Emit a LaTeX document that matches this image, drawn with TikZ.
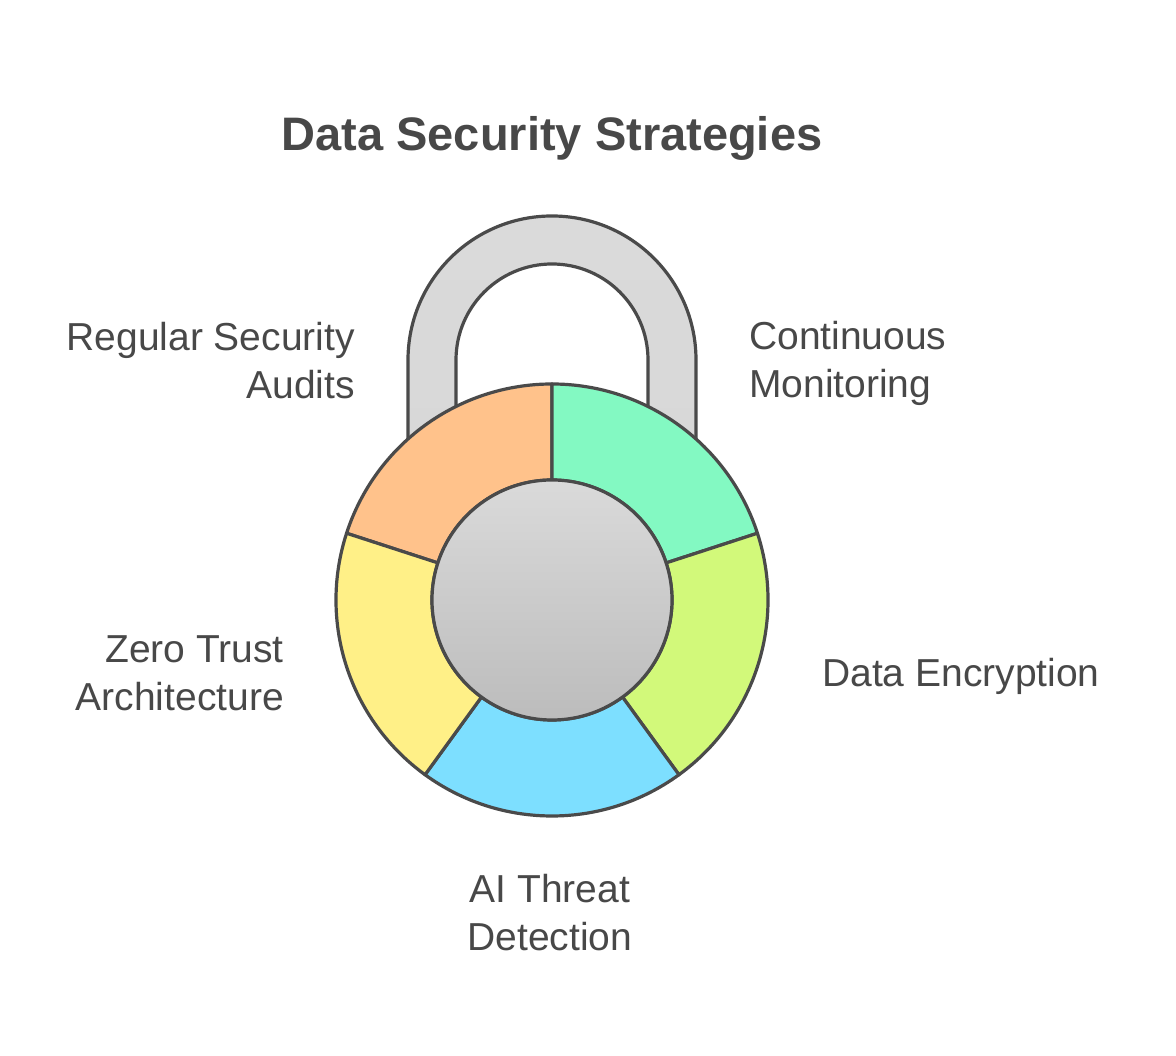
\documentclass[tikz,border=0pt]{standalone}
\usepackage{fontspec}
\setmainfont{Liberation Sans}
\definecolor{ink}{HTML}{484848}
\definecolor{edge}{HTML}{4A4A4A}
\definecolor{cmon}{HTML}{83F9C2}
\definecolor{cenc}{HTML}{D2F97A}
\definecolor{cai}{HTML}{7DDFFF}
\definecolor{czero}{HTML}{FFF087}
\definecolor{caud}{HTML}{FFC28B}
\definecolor{gtop}{HTML}{DADADA}
\definecolor{gbot}{HTML}{BCBCBC}
\tikzset{
  seg/.style={draw=edge, line width=3.2pt, line join=round},
  lbl/.style={text=ink, inner sep=0pt, font=\fontsize{39}{48}\selectfont},
}
\begin{document}
\begin{tikzpicture}[x=1pt,y=1pt]
\useasboundingbox (0,0) rectangle (1176,1056);
% title
\node[text=ink, inner sep=0pt, anchor=base, font=\fontsize{47}{56}\selectfont\bfseries] (title) at (552,905) {Data Security Strategies};
% shackle
\path[seg, top color=gtop, bottom color=gtop!90!gbot]
  (408,456) -- (408,696) arc[start angle=180, end angle=0, radius=144]
  -- (696,456) -- (648,456) -- (648,696) arc[start angle=0, end angle=180, radius=96]
  -- (456,456) -- cycle;
\begin{scope}[shift={(552,456)}]
  \path[seg, fill=caud] (90:216) arc[start angle=90, end angle=162, radius=216] -- (162:120) arc[start angle=162, end angle=90, radius=120] -- cycle;
  \path[seg, fill=cmon] (18:216) arc[start angle=18, end angle=90, radius=216] -- (90:120) arc[start angle=90, end angle=18, radius=120] -- cycle;
  \path[seg, fill=cenc] (-54:216) arc[start angle=-54, end angle=18, radius=216] -- (18:120) arc[start angle=18, end angle=-54, radius=120] -- cycle;
  \path[seg, fill=cai] (-126:216) arc[start angle=-126, end angle=-54, radius=216] -- (-54:120) arc[start angle=-54, end angle=-126, radius=120] -- cycle;
  \path[seg, fill=czero] (162:216) arc[start angle=162, end angle=234, radius=216] -- (234:120) arc[start angle=234, end angle=162, radius=120] -- cycle;
  \path[seg, top color=gtop, bottom color=gbot] (0,0) circle[radius=120];
\end{scope}
% labels (base anchor = baseline of last line)
\node[lbl, anchor=base east, align=right] (audits) at (355,657) {Regular Security\\Audits};
\node[lbl, anchor=base west, align=left] (monitor) at (749,658) {Continuous\\Monitoring};
\node[lbl, anchor=base west] (encrypt) at (822,369) {Data Encryption};
\node[lbl, anchor=base east, align=right] (zero) at (284,345) {Zero Trust\\Architecture};
\node[lbl, anchor=base, align=center] (ai) at (550,105) {AI Threat\\Detection};
\end{tikzpicture}
\end{document}
